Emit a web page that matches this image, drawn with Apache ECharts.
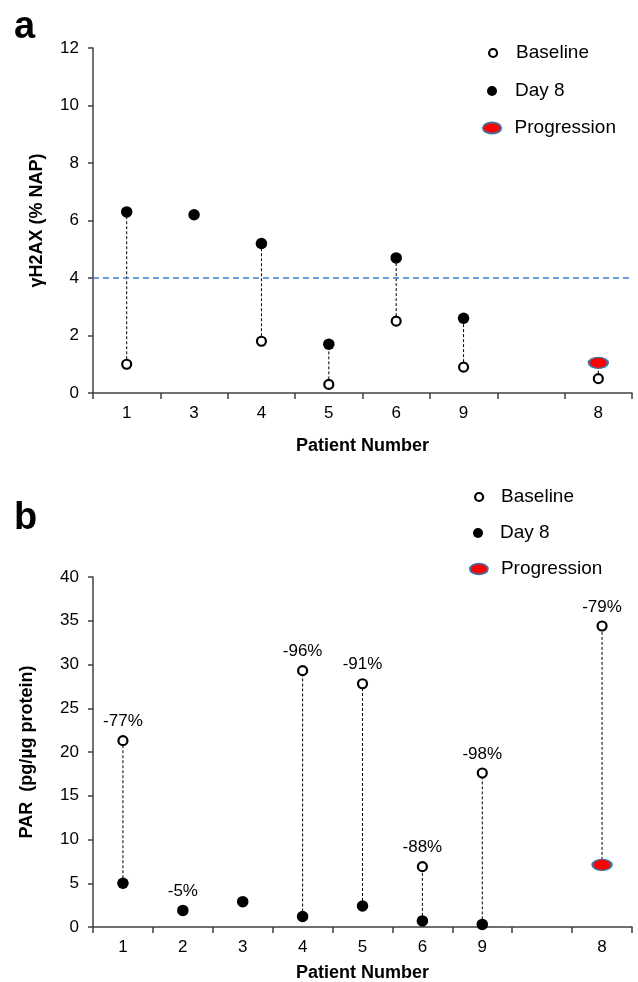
<!DOCTYPE html>
<html><head><meta charset="utf-8">
<script src="https://cdn.jsdelivr.net/npm/echarts@6/dist/echarts.min.js"></script>
<style>html,body{margin:0;padding:0;background:#fff}#c{width:638px;height:982px}</style>
</head><body><div id="c"></div>
<script>
// ---------- Panel a : gammaH2AX ----------
const catsA = ['1', '3', '4', '5', '6', '9', '', '8'];
const baselineA = [1.0, null, 1.8, 0.3, 2.5, 0.9, null, 0.5];
const day8A = [6.3, 6.2, 5.2, 1.7, 4.7, 2.6, null, null];
const progressionA = [null, null, null, null, null, null, null, 1.05];
const thresholdA = 4;
const yTicksA = [0, 2, 4, 6, 8, 10, 12];

// ---------- Panel b : PAR ----------
const catsB = ['1', '2', '3', '4', '5', '6', '9', '', '8'];
const baselineB = [21.3, null, null, 29.3, 27.8, 6.9, 17.6, null, 34.4];
const day8B = [5.0, 1.9, 2.9, 1.2, 2.4, 0.7, 0.3, null, null];
const progressionB = [null, null, null, null, null, null, null, null, 7.1];
const changeB = ['-77%', '-5%', '', '-96%', '-91%', '-88%', '-98%', '', '-79%'];
const yTicksB = [0, 5, 10, 15, 20, 25, 30, 35, 40];

const FONT = '"Liberation Sans", Arial, sans-serif';
const AXIS_COLOR = '#404040';
const ELLIPSE = 'path://M0,6C0,2.686 4.477,0 10,0C15.523,0 20,2.686 20,6C20,9.314 15.523,12 10,12C4.477,12 0,9.314 0,6Z';

const styleBase = { color: '#fff', borderColor: '#000', borderWidth: 2.2, opacity: 1 };
const styleDay8 = { color: '#000', opacity: 1 };
const styleProg = { color: '#FF0000', borderColor: '#41719C', borderWidth: 1.8, opacity: 1 };

function points(arr, labels, labelOwner) {
  const out = [];
  arr.forEach((v, i) => {
    if (v === null) return;
    const item = { value: [i, v] };
    if (labels && labelOwner[i] && labels[i]) {
      item.label = { show: true, formatter: labels[i] };
    }
    out.push(item);
  });
  return out;
}
function connectors(a, b, c) {
  const out = [];
  a.forEach((_, i) => {
    const vals = [a[i], b[i], c[i]].filter(v => v !== null);
    if (vals.length >= 2) out.push([i, Math.min(...vals), Math.max(...vals)]);
  });
  return out;
}
function connectorSeries(idx, data) {
  return {
    type: 'custom', xAxisIndex: idx, yAxisIndex: idx, z: 1, silent: true,
    data: data,
    renderItem: function (params, api) {
      const p1 = api.coord([api.value(0), api.value(1)]);
      const p2 = api.coord([api.value(0), api.value(2)]);
      return {
        type: 'line',
        shape: { x1: p1[0], y1: p1[1], x2: p2[0], y2: p2[1] },
        style: { stroke: '#000', lineWidth: 1, lineDash: [3, 2] }
      };
    }
  };
}
// label owner for panel b : the upper point of each patient
const ownerBaseB = baselineB.map(v => v !== null);
const ownerDay8B = baselineB.map((v, i) => v === null && day8B[i] !== null);

const pctLabel = { position: 'top', distance: 5, color: '#000', fontSize: 17, fontFamily: FONT };

function xAxisOpt(grid, cats, nameGap) {
  return {
    gridIndex: grid, type: 'category', data: cats, boundaryGap: true,
    axisLine: { show: true, onZero: false, lineStyle: { color: AXIS_COLOR, width: 1.5 } },
    axisTick: { show: true, alignWithLabel: false, interval: 0, length: 6, lineStyle: { color: AXIS_COLOR, width: 1.5 } },
    axisLabel: { interval: 0, color: '#000', fontSize: 17, fontFamily: FONT, margin: 12 },
    splitLine: { show: false },
    name: 'Patient Number', nameLocation: 'middle', nameGap: nameGap,
    nameTextStyle: { color: '#000', fontWeight: 'bold', fontSize: 18, fontFamily: FONT }
  };
}
function yAxisOpt(grid, ticks, name, nameGap) {
  return {
    gridIndex: grid, type: 'value',
    min: ticks[0], max: ticks[ticks.length - 1], interval: ticks[1] - ticks[0],
    axisLine: { show: true, lineStyle: { color: AXIS_COLOR, width: 1.5 } },
    axisTick: { show: true, length: 5, lineStyle: { color: AXIS_COLOR, width: 1.5 } },
    axisLabel: { color: '#000', fontSize: 17, fontFamily: FONT, margin: 14 },
    splitLine: { show: false },
    name: name, nameLocation: 'middle', nameGap: nameGap,
    nameTextStyle: { color: '#000', fontWeight: 'bold', fontSize: 18, fontFamily: FONT }
  };
}
function legendOpt(name, icon, left, top, w, h, padLeft, itemStyle) {
  return {
    selectedMode: false, orient: 'vertical', left: left, top: top, padding: 0,
    itemWidth: w, itemHeight: h,
    data: [{ name: name, icon: icon, itemStyle: itemStyle }],
    textStyle: { color: '#000', fontSize: 19, fontFamily: FONT, lineHeight: 20, padding: [0, 0, 0, padLeft] }
  };
}

const option = {
  animation: false,
  backgroundColor: '#fff',
  grid: [
    { left: 93, right: 6, top: 48, bottom: 589, containLabel: false, outerBoundsMode: 'none' },
    { left: 93, right: 6, top: 577, bottom: 55, containLabel: false, outerBoundsMode: 'none' }
  ],
  xAxis: [xAxisOpt(0, catsA, 44), xAxisOpt(1, catsB, 37)],
  yAxis: [yAxisOpt(0, yTicksA, 'γH2AX (% NAP)', 47), yAxisOpt(1, yTicksB, 'PAR  (pg/µg protein)', 57)],
  legend: [
    legendOpt('Baseline', 'circle', 488, 43, 8, 8, 14, styleBase),
    legendOpt('Day 8', 'circle', 487, 81, 10, 10, 13, styleDay8),
    legendOpt('Progression', ELLIPSE, 482, 118, 19, 11, 8, styleProg),
    legendOpt('Baseline', 'circle', 474, 487, 8, 8, 13, styleBase),
    legendOpt('Day 8', 'circle', 473, 523, 10, 10, 12, styleDay8),
    legendOpt('Progression', ELLIPSE, 469, 559, 18, 13, 8, styleProg)
  ],
  graphic: [
    { type: 'text', left: 14, top: 9, style: { text: 'a', font: 'bold 38px ' + FONT, fill: '#000' } },
    { type: 'text', left: 14, top: 500, style: { text: 'b', font: 'bold 38px ' + FONT, fill: '#000' } }
  ],
  series: [
    connectorSeries(0, connectors(baselineA, day8A, progressionA)),
    {
      name: 'Baseline', type: 'scatter', xAxisIndex: 0, yAxisIndex: 0, z: 3,
      symbol: 'circle', symbolSize: 9, itemStyle: styleBase,
      data: points(baselineA)
    },
    {
      name: 'Day 8', type: 'scatter', xAxisIndex: 0, yAxisIndex: 0, z: 3,
      symbol: 'circle', symbolSize: 11.5, itemStyle: styleDay8,
      data: points(day8A),
      markLine: {
        silent: true, symbol: 'none', label: { show: false }, z: 2,
        lineStyle: { color: '#3F7FD0', type: [6, 4], width: 1.5, opacity: 1 },
        data: [{ yAxis: thresholdA }]
      }
    },
    {
      name: 'Progression', type: 'scatter', xAxisIndex: 0, yAxisIndex: 0, z: 4,
      symbol: ELLIPSE, symbolSize: [19, 11], itemStyle: styleProg,
      data: points(progressionA)
    },
    connectorSeries(1, connectors(baselineB, day8B, progressionB)),
    {
      name: 'Baseline', type: 'scatter', xAxisIndex: 1, yAxisIndex: 1, z: 3,
      symbol: 'circle', symbolSize: 9, itemStyle: styleBase, label: pctLabel,
      data: points(baselineB, changeB, ownerBaseB)
    },
    {
      name: 'Day 8', type: 'scatter', xAxisIndex: 1, yAxisIndex: 1, z: 3,
      symbol: 'circle', symbolSize: 11.5, itemStyle: styleDay8, label: pctLabel,
      data: points(day8B, changeB, ownerDay8B)
    },
    {
      name: 'Progression', type: 'scatter', xAxisIndex: 1, yAxisIndex: 1, z: 4,
      symbol: ELLIPSE, symbolSize: [19, 11], itemStyle: styleProg,
      data: points(progressionB)
    }
  ]
};
const chart = echarts.init(document.getElementById('c'), null, { renderer: 'canvas' });
chart.setOption(option);
</script>
</body></html>
